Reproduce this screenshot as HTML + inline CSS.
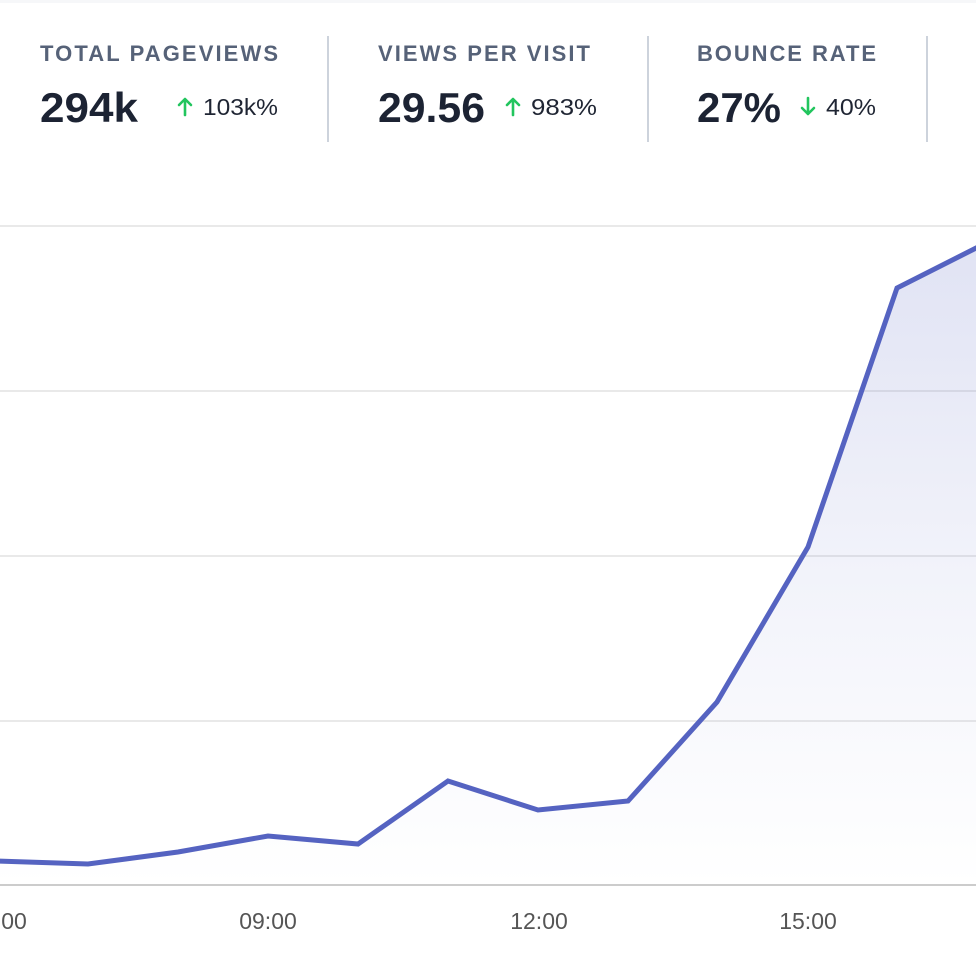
<!DOCTYPE html>
<html>
<head>
<meta charset="utf-8">
<style>
  html, body { margin: 0; padding: 0; background: #ffffff; }
  body { width: 976px; height: 960px; overflow: hidden; }
  svg { display: block; }
</style>
</head>
<body>
<svg width="976" height="960" viewBox="0 0 976 960" xmlns="http://www.w3.org/2000/svg">
  <defs>
    <linearGradient id="fillg" x1="0" y1="242" x2="0" y2="885" gradientUnits="userSpaceOnUse">
      <stop offset="0" stop-color="#5563c1" stop-opacity="0.18"/>
      <stop offset="0.5" stop-color="#5563c1" stop-opacity="0.08"/>
      <stop offset="1" stop-color="#5563c1" stop-opacity="0"/>
    </linearGradient>
  </defs>
  <rect x="0" y="0" width="976" height="960" fill="#ffffff"/>
  <rect x="0" y="0" width="976" height="3" fill="#f6f7f9"/>

  <!-- header stats -->
  <g font-family="Liberation Sans, Arial, sans-serif">
    <text x="40" y="61" font-size="22" font-weight="bold" fill="#566278" textLength="238" lengthAdjust="spacing">TOTAL PAGEVIEWS</text>
    <text x="40" y="122" font-size="42" font-weight="bold" fill="#1c2333" textLength="98" lengthAdjust="spacingAndGlyphs">294k</text>
    <text x="203" y="115" font-size="23.5" fill="#1f2533" textLength="75" lengthAdjust="spacingAndGlyphs">103k%</text>

    <text x="378" y="61" font-size="22" font-weight="bold" fill="#566278" textLength="212" lengthAdjust="spacing">VIEWS PER VISIT</text>
    <text x="378" y="122" font-size="42" font-weight="bold" fill="#1c2333" textLength="107" lengthAdjust="spacingAndGlyphs">29.56</text>
    <text x="531" y="115" font-size="23.5" fill="#1f2533" textLength="66" lengthAdjust="spacingAndGlyphs">983%</text>

    <text x="697" y="61" font-size="22" font-weight="bold" fill="#566278" textLength="179" lengthAdjust="spacing">BOUNCE RATE</text>
    <text x="697" y="122" font-size="42" font-weight="bold" fill="#1c2333" textLength="84" lengthAdjust="spacingAndGlyphs">27%</text>
    <text x="826" y="115" font-size="23.5" fill="#1f2533" textLength="50" lengthAdjust="spacingAndGlyphs">40%</text>
  </g>

  <!-- arrows -->
  <g stroke="#22c55e" stroke-width="2.6" fill="none" stroke-linecap="round" stroke-linejoin="round">
    <path d="M185 115 L185 99 M179 105 L185 99 L191 105"/>
    <path d="M513 115 L513 99 M507 105 L513 99 L519 105"/>
    <path d="M808 98 L808 114 M802 108 L808 114 L814 108"/>
  </g>

  <!-- dividers -->
  <g stroke="#cdd3dc" stroke-width="2">
    <line x1="328" y1="36" x2="328" y2="142"/>
    <line x1="648" y1="36" x2="648" y2="142"/>
    <line x1="927" y1="36" x2="927" y2="142"/>
  </g>

  <!-- gridlines -->
  <g stroke="#e2e2e2" stroke-width="1.5">
    <line x1="0" y1="226" x2="976" y2="226"/>
    <line x1="0" y1="391" x2="976" y2="391"/>
    <line x1="0" y1="556" x2="976" y2="556"/>
    <line x1="0" y1="721" x2="976" y2="721"/>
  </g>

  <!-- area fill -->
  <path d="M-92 858 L-2 861 L88 864 L178 852 L268 836 L358 844 L448 781 L538 810 L628 801 L717 702 L808 547 L897 288 L988 242 L988 885 L-92 885 Z" fill="url(#fillg)"/>

  <!-- axis line -->
  <line x1="0" y1="885" x2="976" y2="885" stroke="#cccccc" stroke-width="2"/>

  <!-- line -->
  <path d="M-92 858 L-2 861 L88 864 L178 852 L268 836 L358 844 L448 781 L538 810 L628 801 L717 702 L808 547 L897 288 L988 242" fill="none" stroke="#5563c1" stroke-width="5" stroke-linejoin="miter" stroke-linecap="round"/>

  <!-- x labels -->
  <g font-family="Liberation Sans, Arial, sans-serif" font-size="23" fill="#555555" text-anchor="middle">
    <text x="-2" y="929">06:00</text>
    <text x="268" y="929">09:00</text>
    <text x="539" y="929">12:00</text>
    <text x="808" y="929">15:00</text>
  </g>
</svg>
</body>
</html>
